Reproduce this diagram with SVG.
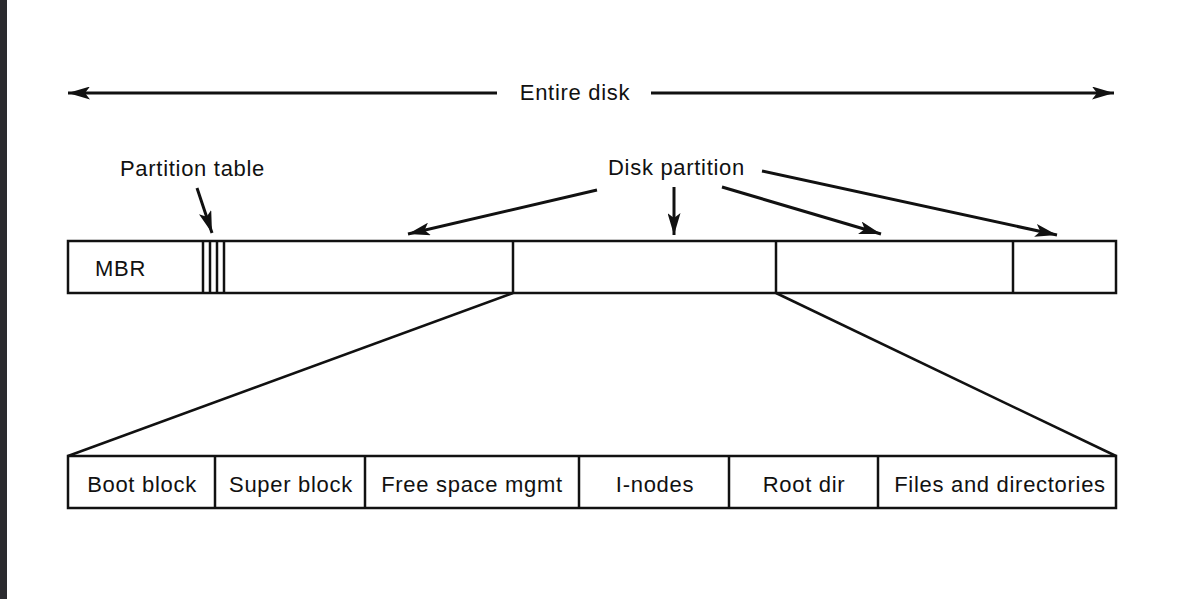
<svg xmlns="http://www.w3.org/2000/svg" width="1180" height="599" viewBox="0 0 1180 599">
<style>
.t{font-family:"Liberation Sans",Arial,sans-serif;font-size:22px;letter-spacing:0.7px;fill:#111}
.c{text-anchor:middle}
.b{fill:#fff;stroke:#111;stroke-width:2.5}
.l{stroke:#111;stroke-width:2.5;fill:none}
.a{stroke:#111;stroke-width:3;fill:none;marker-end:url(#ah)}
</style>
<defs>
<marker id="ah" viewBox="0 0 22 13" refX="22" refY="6.5" markerWidth="22" markerHeight="13" markerUnits="userSpaceOnUse" orient="auto">
<path d="M0,0 L22,6.5 L0,13 L5,6.5 Z" fill="#111"/>
</marker>
</defs>
<rect x="0" y="0" width="1180" height="599" fill="#fff"/>
<rect x="0" y="0" width="7" height="599" fill="#2b2b2f"/>
<g id="entire-disk">
<text class="t c" x="575" y="100">Entire disk</text>
</g>
<g id="partition-table-label">
<text class="t" x="120" y="176">Partition table</text>
</g>
<g id="disk-partition-label">
<text class="t" x="608" y="175">Disk partition</text>
</g>
<g id="disk">
<rect class="b" x="68" y="241" width="1048" height="52"/>
<text class="t" x="95" y="276">MBR</text>
<line class="l" x1="203" y1="241" x2="203" y2="293"/>
<line class="l" x1="210" y1="241" x2="210" y2="293"/>
<line class="l" x1="217" y1="241" x2="217" y2="293"/>
<line class="l" x1="224" y1="241" x2="224" y2="293"/>
<line class="l" x1="513" y1="241" x2="513" y2="293"/>
<line class="l" x1="776" y1="241" x2="776" y2="293"/>
<line class="l" x1="1013" y1="241" x2="1013" y2="293"/>
</g>
<g id="partition-layout">
<rect class="b" x="68" y="456" width="1048" height="52"/>
<line class="l" x1="215" y1="456" x2="215" y2="508"/>
<line class="l" x1="365" y1="456" x2="365" y2="508"/>
<line class="l" x1="579" y1="456" x2="579" y2="508"/>
<line class="l" x1="729" y1="456" x2="729" y2="508"/>
<line class="l" x1="878" y1="456" x2="878" y2="508"/>
<text class="t c" x="142" y="492">Boot block</text>
<text class="t c" x="291" y="492">Super block</text>
<text class="t c" x="472" y="492">Free space mgmt</text>
<text class="t c" x="655" y="492">I-nodes</text>
<text class="t c" x="804" y="492">Root dir</text>
<text class="t c" x="1000" y="492">Files and directories</text>
</g>
<g id="connectors">
<line class="a" x1="497" y1="93" x2="68" y2="93"/>
<line class="a" x1="651" y1="93" x2="1114" y2="93"/>
<line class="a" x1="197" y1="188" x2="212" y2="233"/>
<line class="a" x1="597" y1="190" x2="408" y2="234"/>
<line class="a" x1="674" y1="187" x2="674" y2="235"/>
<line class="a" x1="722" y1="187" x2="881" y2="234"/>
<line class="a" x1="762" y1="171" x2="1057" y2="235"/>
<line class="l" x1="513" y1="293" x2="68" y2="456"/>
<line class="l" x1="776" y1="293" x2="1116" y2="456"/>
</g>
</svg>
